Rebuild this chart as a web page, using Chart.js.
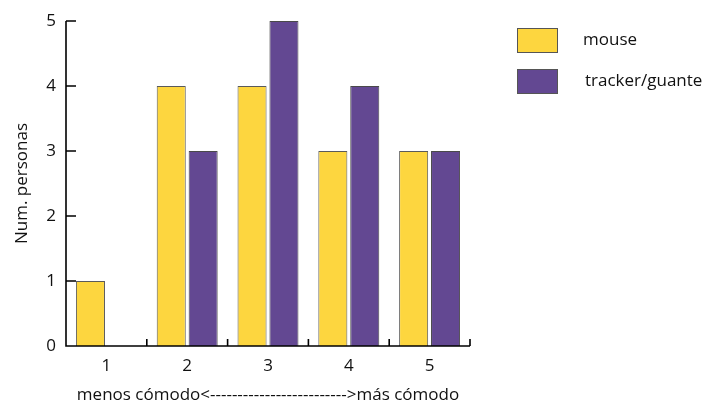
<!DOCTYPE html>
<html>
<head>
<meta charset="utf-8">
<script src="https://cdn.jsdelivr.net/npm/chart.js@4"></script>
<style>
  html, body { margin: 0; padding: 0; background: #fff; }
  #wrap { width: 707px; height: 405px; }
</style>
</head>
<body>
<div id="wrap"><canvas id="chart" width="707" height="405"></canvas></div>
<script>
const categories = ['1', '2', '3', '4', '5'];
const mouseValues = [1, 4, 4, 3, 3];
const trackerValues = [0, 3, 5, 4, 3];
const seriesNames = ['mouse', 'tracker/guante'];
const yTicks = [0, 1, 2, 3, 4, 5];

const FONT = "'Open Sans', 'Noto Sans', sans-serif";

// inward tick marks on both axes, plus the custom legend on the right
const tickMarks = {
    id: 'tickMarks',
    afterDraw(chart) {
        const ctx = chart.ctx;
        const area = chart.chartArea;
        const x = chart.scales.x;
        const y = chart.scales.y;
        ctx.save();
        ctx.strokeStyle = '#000';
        ctx.lineWidth = 1.6;
        ctx.beginPath();
        ctx.moveTo(area.left, area.top);
        ctx.lineTo(area.left, area.bottom);
        ctx.lineTo(area.right, area.bottom);
        yTicks.forEach(v => {
            const py = y.getPixelForValue(v);
            ctx.moveTo(area.left, py);
            ctx.lineTo(area.left + 10, py);
        });
        for (let i = 0; i < categories.length; i++) {
            const px = i < categories.length - 1
                ? (x.getPixelForValue(i) + x.getPixelForValue(i + 1)) / 2
                : area.right;
            ctx.moveTo(px, area.bottom);
            ctx.lineTo(px, area.bottom - 7);
        }
        ctx.stroke();

        // legend
        chart.data.datasets.forEach((ds, i) => {
            const top = 28 + i * 41;
            ctx.fillStyle = ds.backgroundColor;
            ctx.fillRect(517, top, 41, 25);
            ctx.strokeStyle = '#555';
            ctx.lineWidth = 1;
            ctx.strokeRect(517.5, top + 0.5, 40, 24);
            ctx.fillStyle = '#111';
            ctx.font = '17px ' + FONT;
            ctx.textBaseline = 'middle';
            ctx.fillText(ds.label, 583 + i * 2, top + 12);
        });
        ctx.restore();
    }
};

new Chart(document.getElementById('chart'), {
    type: 'bar',
    data: {
        labels: categories,
        datasets: [
            {
                label: seriesNames[0],
                data: mouseValues,
                backgroundColor: '#fdd63f',
                borderColor: '#5a5a5a',
                borderWidth: 1,
                categoryPercentage: 0.79,
                barPercentage: 0.91
            },
            {
                label: seriesNames[1],
                data: trackerValues,
                backgroundColor: '#634892',
                borderColor: '#4a4a4a',
                borderWidth: 1,
                categoryPercentage: 0.79,
                barPercentage: 0.91
            }
        ]
    },
    options: {
        responsive: false,
        animation: false,
        devicePixelRatio: 1,
        layout: { padding: { left: 0, right: 237, top: 21, bottom: 0 } },
        plugins: {
            legend: { display: false },
            tooltip: { enabled: false }
        },
        scales: {
            x: {
                border: { display: false },
                grid: { display: false, drawTicks: false },
                ticks: { color: '#111', font: { family: FONT, size: 17 }, padding: 10 },
                title: {
                    display: true,
                    text: 'menos cómodo<------------------------->más cómodo',
                    color: '#111',
                    font: { family: FONT, size: 17 },
                    padding: { top: 4, bottom: 0 }
                },
                afterFit(scale) { scale.height = 59; }
            },
            y: {
                min: 0,
                max: 5,
                border: { display: false },
                grid: { display: false, drawTicks: false },
                ticks: {
                    stepSize: 1,
                    color: '#111',
                    font: { family: FONT, size: 17 },
                    padding: 10
                },
                title: {
                    display: true,
                    text: 'Num. personas',
                    color: '#111',
                    font: { family: FONT, size: 17 },
                    padding: { top: 12, bottom: 0 }
                },
                afterFit(scale) { scale.width = 66; }
            }
        }
    },
    plugins: [tickMarks]
});
</script>
</body>
</html>
